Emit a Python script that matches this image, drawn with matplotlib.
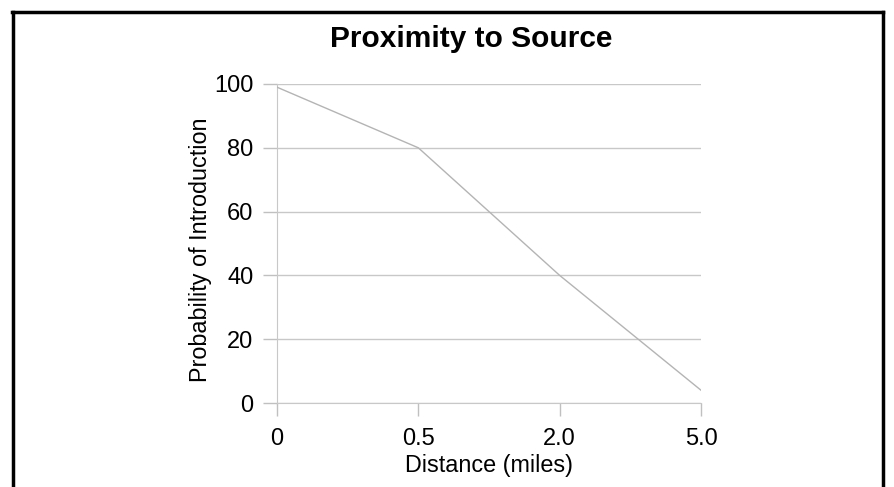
import matplotlib
matplotlib.use("Agg")
import matplotlib.pyplot as plt
from matplotlib.lines import Line2D

plt.rcParams['font.family'] = ['Liberation Sans', 'DejaVu Sans']

# data
distances = ["0", "0.5", "2.0", "5.0"]
probability = [99, 80, 40, 4]
y_ticks = [0, 20, 40, 60, 80, 100]

W, H = 894, 487
fig = plt.figure(figsize=(W / 100, H / 100), dpi=100)
ax = fig.add_axes([277 / W, 1 - 403 / H, (701 - 277) / W, (403 - 84) / H])

x = list(range(len(distances)))
ax.plot(x, probability, color="#b4b4b4", linewidth=1.0, zorder=3)

ax.set_xlim(0, len(distances) - 1)
ax.set_ylim(0, 100)
ax.set_xticks(x)
ax.set_xticklabels(distances)
ax.set_yticks(y_ticks)
ax.set_yticklabels([str(v) for v in y_ticks])

ax.grid(axis="y", color="#c8c8c8", linewidth=1.0, zorder=1)
for s in ["top", "right"]:
    ax.spines[s].set_visible(False)
ax.spines["left"].set_color("#c8c8c8")
ax.spines["bottom"].set_color("#c8c8c8")
ax.tick_params(axis="both", colors="#c0c0c0", labelcolor="black", labelsize=17,
               width=1.0)
ax.tick_params(axis="y", length=10, pad=7)
ax.tick_params(axis="x", length=9.5, pad=8.6)

fig.text(471 / W, 1 - 47 / H, "Proximity to Source", ha="center", va="baseline",
         fontsize=21.5, fontweight="bold")
fig.text(489 / W, 1 - 472 / H, "Distance (miles)", ha="center", va="baseline",
         fontsize=16.8)
fig.text(200 / W, 1 - 250 / H, "Probability of Introduction", ha="center",
         va="center", rotation=90, fontsize=16.8)

# black frame around the picture (open at the bottom)
frame_kw = dict(color="black", linewidth=2.5, transform=fig.transFigure)
fig.add_artist(Line2D([12 / W, 883 / W], [1 - 11.5 / H, 1 - 11.5 / H], **frame_kw))
fig.add_artist(Line2D([12.5 / W, 12.5 / W], [0, 1 - 11.5 / H], **frame_kw))
fig.add_artist(Line2D([882.5 / W, 882.5 / W], [0, 1 - 11.5 / H], **frame_kw))

fig.savefig("out.png", dpi=100)
